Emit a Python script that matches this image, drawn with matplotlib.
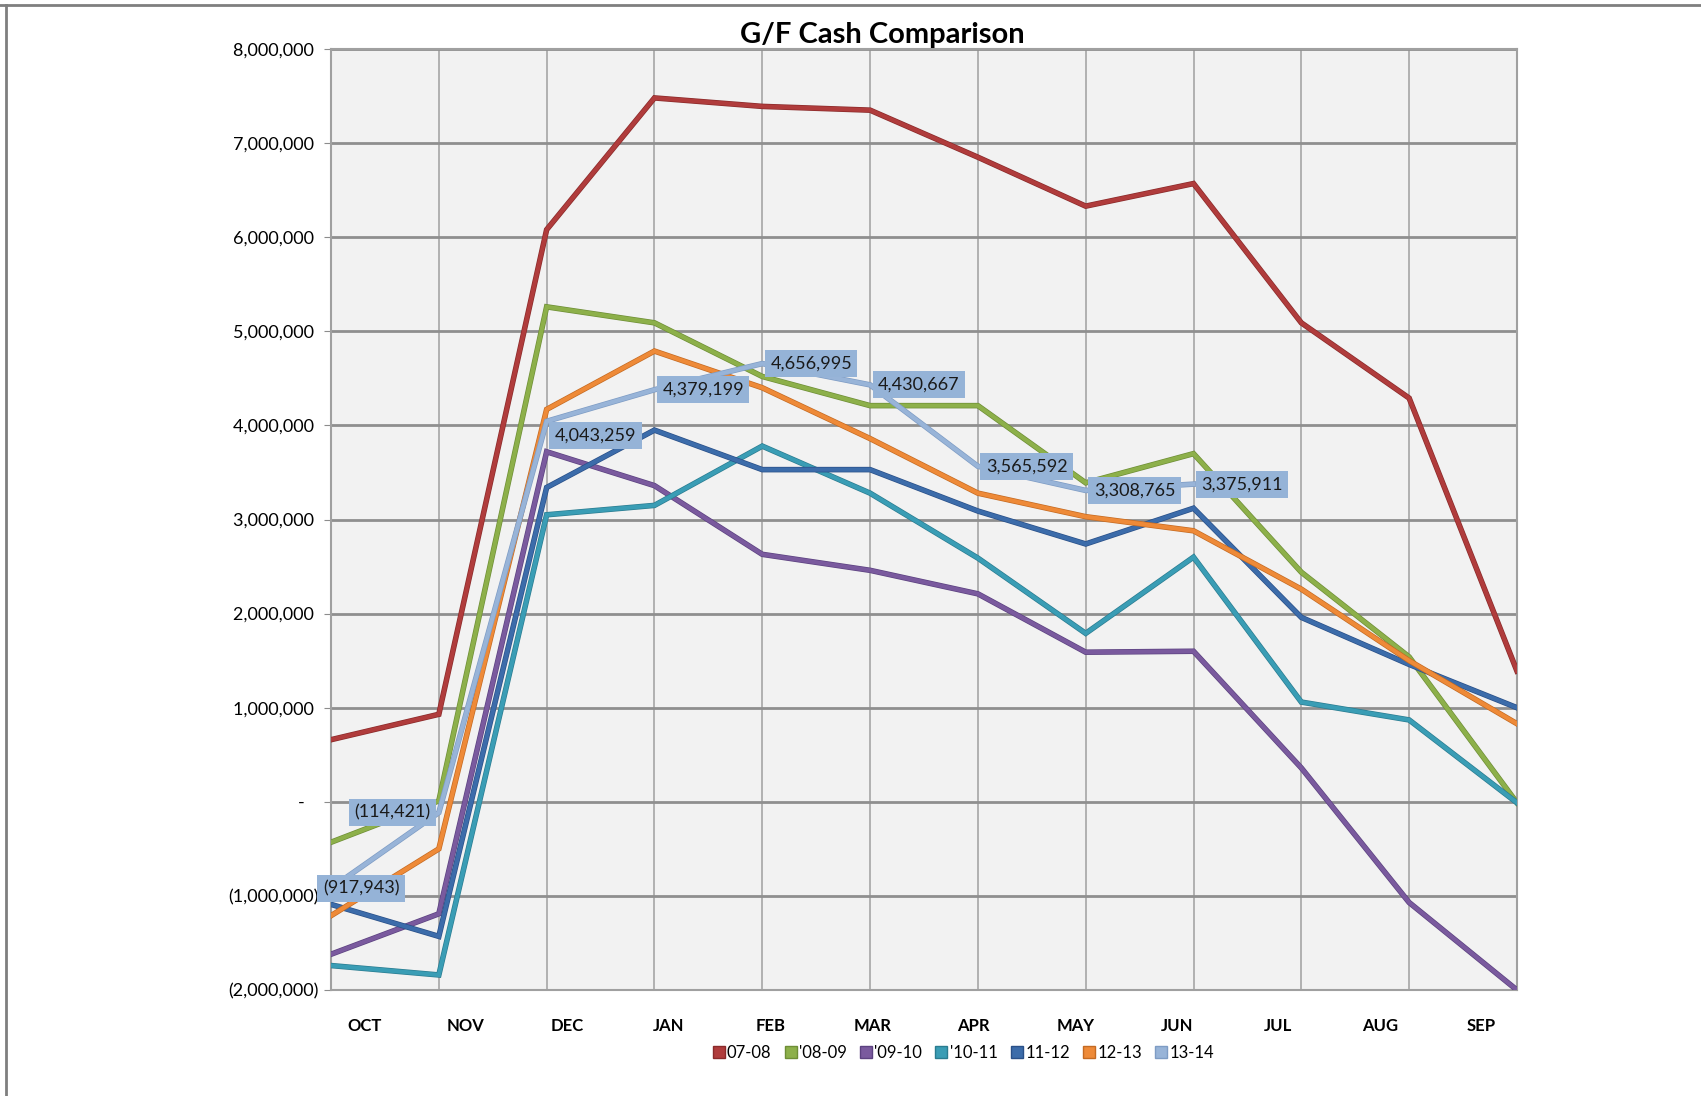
import numpy as np
import matplotlib.pyplot as plt
import matplotlib.patheffects as pe
from matplotlib.lines import Line2D
from matplotlib.ticker import FuncFormatter

plt.rcParams['font.family'] = ['Liberation Sans Narrow', 'Lato', 'DejaVu Sans']

months = ["OCT", "NOV", "DEC", "JAN", "FEB", "MAR", "APR", "MAY", "JUN", "JUL", "AUG", "SEP"]
names = ["07-08", "'08-09", "'09-10", "'10-11", "11-12", "12-13", "13-14"]

# month-end cash balances
fy0708 = [660000, 930000, 6080000, 7480000, 7390000, 7350000, 6850000, 6330000, 6570000, 5090000, 4290000, 1390000]
fy0809 = [-430000, 10000, 5260000, 5090000, 4520000, 4210000, 4210000, 3390000, 3700000, 2440000, 1540000, -10000]
fy0910 = [-1620000, -1190000, 3720000, 3360000, 2630000, 2460000, 2210000, 1590000, 1600000, 360000, -1070000, -2000000]
fy1011 = [-1740000, -1840000, 3050000, 3150000, 3780000, 3280000, 2590000, 1790000, 2600000, 1060000, 870000, -10000]
fy1112 = [-1090000, -1430000, 3340000, 3950000, 3530000, 3530000, 3090000, 2740000, 3120000, 1960000, 1460000, 1000000]
fy1213 = [-1210000, -500000, 4170000, 4790000, 4400000, 3860000, 3280000, 3030000, 2880000, 2260000, 1500000, 830000]
fy1314 = [-917943, -114421, 4043259, 4379199, 4656995, 4430667, 3565592, 3308765, 3375911]

series = [fy0708, fy0809, fy0910, fy1011, fy1112, fy1213, fy1314]
colors = ['#B03C3C', '#8DB04A', '#7A5A9E', '#3A9DB5', '#3C6CAA', '#EE8A38', '#98B4D8']
edges = ['#8A2A2A', '#6E8E36', '#5C4280', '#2A7C90', '#2A5088', '#C46A22', '#7E9CC4']

fig = plt.figure(figsize=(17.01, 10.96), dpi=100)
ax = fig.add_axes([0.1946, 0.0967, 0.8918 - 0.1946, 0.9553 - 0.0967])
ax.set_facecolor('#F2F2F2')

x = np.arange(len(months))
for vals, name, c, ec in zip(series, names, colors, edges):
    ax.plot(x[:len(vals)], vals, color=c, lw=3.0, solid_joinstyle='miter', zorder=3,
            path_effects=[pe.Stroke(linewidth=4.0, foreground=ec), pe.Normal()])

# data labels on the current year
offsets = [(30, 0, 'center'), (-8, 0, 'right'), (8, -14, 'left'), (8, 0, 'left'), (8, 0, 'left'),
           (8, 0, 'left'), (8, 0, 'left'), (8, 0, 'left'), (8, 0, 'left')]
for i, v in enumerate(fy1314):
    dx, dy, ha = offsets[i]
    txt = f"({-v:,.0f})" if v < 0 else f"{v:,.0f}"
    ax.annotate(txt, (x[i], v), xytext=(dx, dy), textcoords='offset pixels', ha=ha, va='center',
                fontsize=13, color='#1A1A1A', zorder=5,
                bbox=dict(boxstyle='square,pad=0.3', fc='#95B3D7', ec='none'))

ax.set_xlim(0, 11)
ax.set_ylim(-2000000, 8000000)
ax.set_yticks(np.arange(-2000000, 8000001, 1000000))


def fmt(v, pos):
    if abs(v) < 1:
        return '-   '
    if v < 0:
        return f"({-v:,.0f})"
    return f"{v:,.0f} "


ax.yaxis.set_major_formatter(FuncFormatter(fmt))
ax.set_xticks(np.linspace(0.31, 10.67, 12))
ax.set_xticklabels(months, fontweight='bold', fontsize=12)
ax.set_xticks(np.arange(0, 12), minor=True)
ax.tick_params(axis='x', which='both', length=0, pad=20)
ax.tick_params(axis='y', length=5, color='#8C8C8C', labelsize=13, pad=4)
ax.grid(False)
ax.grid(True, axis='x', which='minor', color='#A6A6A6', lw=1.2, zorder=1)
ax.grid(True, axis='y', which='major', color='#8F8F8F', lw=2.0, zorder=1)
for s in ax.spines.values():
    s.set_color('#A0A0A0')
    s.set_linewidth(1.5)

fig.text(0.5185, 0.968, "G/F Cash Comparison", ha='center', va='center', fontsize=21, fontweight='bold')

handles = [Line2D([], [], marker='s', ls='none', markersize=8, color=c, markeredgecolor=ec)
           for c, ec in zip(colors, edges)]
fig.legend(handles, names, loc='center', bbox_to_anchor=(963 / 1701, 0.039), ncol=7, frameon=False,
           fontsize=12, handletextpad=0.1, columnspacing=0.75, handlelength=0.8)

# outer chart border (top and left edges)
fig.add_artist(Line2D([0, 1], [1 - 5 / 1096, 1 - 5 / 1096], color='#7F7F7F', lw=2, transform=fig.transFigure))
fig.add_artist(Line2D([6 / 1701, 6 / 1701], [0, 1 - 5 / 1096], color='#7F7F7F', lw=2, transform=fig.transFigure))

fig.savefig('out.png', dpi=100)
